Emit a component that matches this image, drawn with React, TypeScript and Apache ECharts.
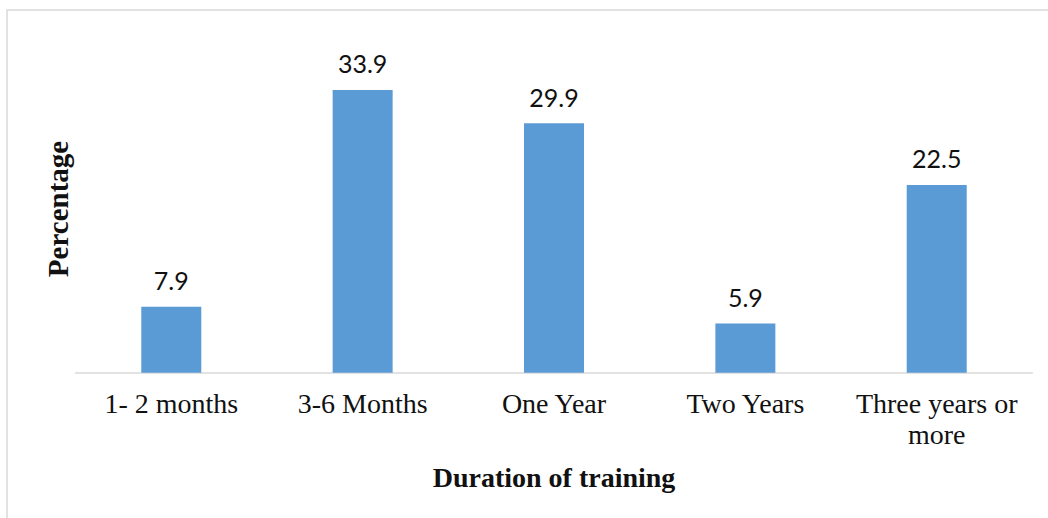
import React, { useEffect, useRef } from "react";
import * as echarts from "echarts";

const categories = ["1- 2 months", "3-6 Months", "One Year", "Two Years", "Three years or\nmore"];
const percentages = [7.9, 33.9, 29.9, 5.9, 22.5];
const xAxisTitle = "Duration of training";
const yAxisTitle = "Percentage";

export default function App() {
  const ref = useRef<HTMLDivElement>(null);
  useEffect(() => {
    if (!ref.current) return;
    const chart = echarts.init(ref.current, null, { renderer: "svg" });
    chart.setOption({
      animation: false,
      backgroundColor: "#ffffff",
      grid: { left: 75.6, right: 15.6, top: 39, bottom: 145.3, containLabel: false },
      xAxis: {
        type: "category",
        data: categories,
        axisLine: { lineStyle: { color: "#d9d9d9", width: 1.5 } },
        axisTick: { show: false },
        axisLabel: {
          color: "#111111",
          fontFamily: "Liberation Serif",
          fontSize: 28,
          lineHeight: 31,
          margin: 15,
          interval: 0,
        },
      },
      yAxis: {
        type: "value",
        min: 0,
        max: 40,
        show: false,
        splitLine: { show: false },
      },
      series: [
        {
          type: "bar",
          data: percentages,
          barWidth: 60,
          itemStyle: { color: "#5b9bd5" },
          label: {
            show: true,
            position: "top",
            distance: 14,
            color: "#111111",
            fontFamily: "Lato",
            fontSize: 25,
            formatter: (p: any) => p.value.toFixed(1),
          },
        },
      ],
      graphic: [
        {
          type: "rect",
          shape: { x: 7, y: 10, width: 1100, height: 600 },
          style: { fill: "none", stroke: "#d9d9d9", lineWidth: 1.5 },
          silent: true,
        },
        {
          type: "text",
          x: 554,
          y: 477,
          style: {
            text: xAxisTitle,
            fontFamily: "Liberation Serif",
            fontWeight: "bold",
            fontSize: 28,
            fill: "#111111",
            align: "center",
            verticalAlign: "middle",
          },
        },
        {
          type: "text",
          x: 58,
          y: 209,
          rotation: Math.PI / 2,
          style: {
            text: yAxisTitle,
            fontFamily: "Liberation Serif",
            fontWeight: "bold",
            fontSize: 29,
            fill: "#111111",
            align: "center",
            verticalAlign: "middle",
          },
        },
      ],
    });
    return () => chart.dispose();
  }, []);
  return (
    <div
      ref={ref}
      style={{ position: "fixed", left: 0, top: 0, width: 1048, height: 518 }}
    />
  );
}
